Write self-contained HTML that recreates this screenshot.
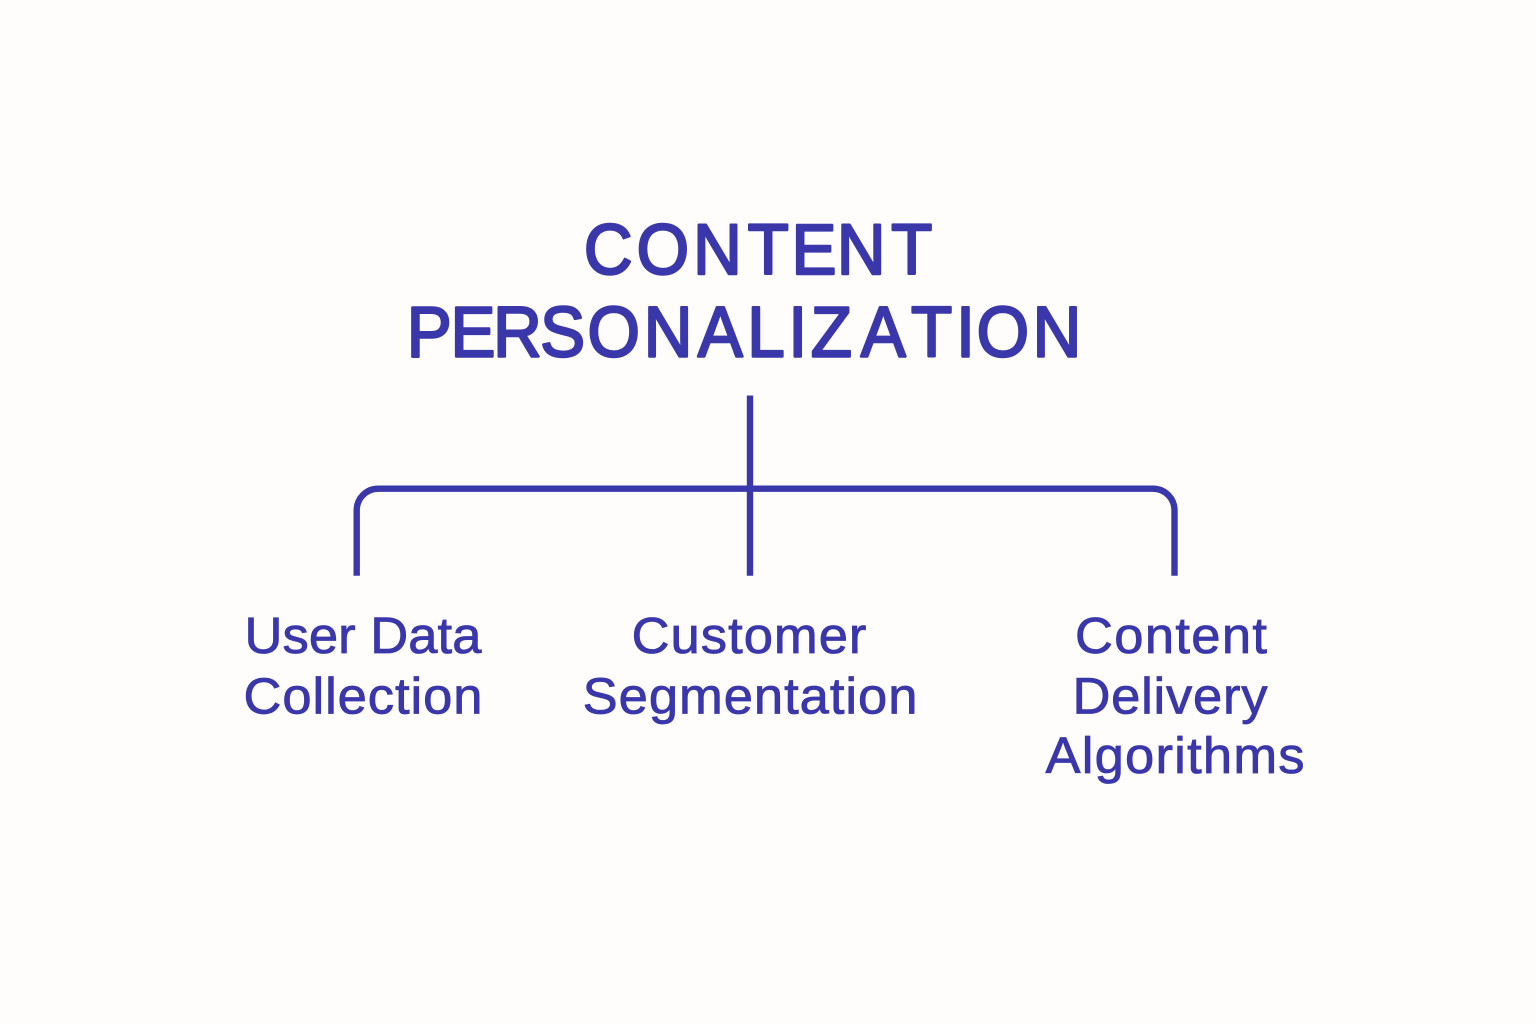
<!DOCTYPE html>
<html><head><meta charset="utf-8"><style>html,body{margin:0;padding:0;background:#fefdfb}</style></head>
<body>
<svg xmlns="http://www.w3.org/2000/svg" width="1536" height="1024" viewBox="0 0 1536 1024" style="display:block">
<rect width="1536" height="1024" fill="#fefdfb"/>
<g fill="none" stroke="#3a37ab" stroke-width="6.4">
<path d="M750 395.5V575.7"/>
<path d="M356.7 575.7V510.2A21.5 21.5 0 0 1 378.2 488.7H1153A21.5 21.5 0 0 1 1174.5 510.2V575.7"/>
</g>
<g font-family="Liberation Sans, sans-serif" fill="#3a37ab" text-anchor="middle">
<g font-size="71" stroke="#3a37ab" stroke-width="2.4" stroke-linejoin="round" style="font-kerning:none" transform="scale(0.95 1)">
<text y="274.2" x="640.3 697.7 755.3 808.7 856.8 906.6 959.7">CONTENT</text>
<text y="356.6" x="451.8 497.9 544.7 592.3 646.1 703.2 758.2 806.3 839.7 875.1 929.8 980.7 1016.3 1055.6 1112.6">PERSONALIZATION</text>
</g>
<g font-size="51" stroke="#3a37ab" stroke-width="0.8" transform="scale(1.03 1)">
<text x="352.4" y="653" textLength="230" lengthAdjust="spacing">User Data</text>
<text x="352.4" y="713.5" textLength="232" lengthAdjust="spacing">Collection</text>
<text x="727.2" y="653" textLength="228" lengthAdjust="spacing">Customer</text>
<text x="728.2" y="713.5" textLength="325" lengthAdjust="spacing">Segmentation</text>
<text x="1136.9" y="653" textLength="186.4" lengthAdjust="spacing">Content</text>
<text x="1135.9" y="713.5" textLength="189.3" lengthAdjust="spacing">Delivery</text>
<text x="1140.8" y="773" textLength="251.5" lengthAdjust="spacing">Algorithms</text>
</g>
</g>
</svg>
</body></html>
